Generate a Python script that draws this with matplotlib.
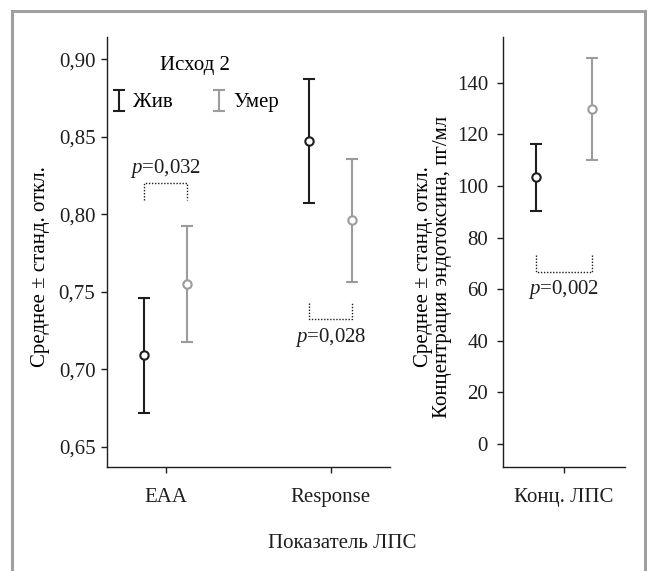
import numpy as np
import matplotlib
matplotlib.use('Agg')
import matplotlib.pyplot as plt
from matplotlib.patches import Rectangle

plt.rcParams['font.family'] = ['Liberation Serif', 'DejaVu Serif']
plt.rcParams['mathtext.fontset'] = 'custom'
plt.rcParams['mathtext.rm'] = 'Liberation Serif'
plt.rcParams['mathtext.it'] = 'Liberation Serif:italic'

# --- data -------------------------------------------------------------
groups = ['Жив', 'Умер']
group_colors = ['#1e1e1e', '#9c9c9c']
group_offset = [-0.13, 0.13]

left_cats = ['EAA', 'Response']
alive_mean = [0.709, 0.847]
alive_sd = [0.037, 0.040]
dead_mean = [0.755, 0.796]
dead_sd = [0.0377, 0.0397]
left_p = ['0,032', '0,028']
left_bracket_y = [0.820, 0.7327]     # horizontal dotted line
left_bracket_tip = [0.809, 0.743]    # end of the short vertical ticks
left_p_y = [0.8295, 0.7207]

right_cats = ['Конц. ЛПС']
lps_alive_mean = [103.3]
lps_alive_sd = [13.0]
lps_dead_mean = [129.9]
lps_dead_sd = [19.8]
right_p = ['0,002']
right_bracket_y = [66.6]
right_bracket_tip = [73.1]
right_p_y = [59.9]
right_offset = [-0.2, 0.2]

left_yticks = [0.65, 0.70, 0.75, 0.80, 0.85, 0.90]
right_yticks = [0, 20, 40, 60, 80, 100, 120, 140]

FS = 15
W, H = 648, 571
EB = dict(elinewidth=1.5, capsize=4, capthick=1.5)


def style_axes(ax):
    for s in ('top', 'right'):
        ax.spines[s].set_visible(False)
    for s in ('left', 'bottom'):
        ax.spines[s].set_linewidth(1.0)
        ax.spines[s].set_color('#1e1e1e')
    ax.tick_params(axis='both', direction='out', length=4.5, width=1.0,
                   labelsize=FS, colors='#1e1e1e')
    ax.tick_params(axis='x', pad=11)
    ax.tick_params(axis='y', pad=4)


def draw_groups(ax, xs, means, sds, offsets):
    handles = []
    for (m, s), off, col in zip(zip(means, sds), offsets, group_colors):
        ax.errorbar(np.asarray(xs) + off, m, yerr=s, fmt='o', color=col,
                    mfc='white', mec=col, ms=6, mew=1.5, zorder=3, **EB)
        # legend proxy: bar with caps, no marker
        handles.append(ax.errorbar([np.nan], [np.nan], yerr=[1.0], fmt='none',
                                   color=col, **EB))
    return handles


def draw_bracket(ax, x, offsets, y, tip, ptxt, py):
    xl, xr = x + offsets[0], x + offsets[1]
    ax.plot([xl, xl, xr, xr], [tip, y, y, tip], ls=(0, (1, 1.2)),
            color='#1e1e1e', lw=1.0)
    ax.text(x, py, r'$\it{p}$=' + ptxt, ha='center', va='center', fontsize=FS,
            color='#1e1e1e')


fig = plt.figure(figsize=(W / 100, H / 100), dpi=100)

ax_bottom = 1 - 466.7 / H
ax_height = (466.7 - 37.3) / H

# --- left panel ----------------------------------------------------------
ax1 = fig.add_axes([107.3 / W, ax_bottom, (390 - 107.3) / W, ax_height])
x1 = np.arange(len(left_cats))
handles = draw_groups(ax1, x1, [alive_mean, dead_mean], [alive_sd, dead_sd],
                      group_offset)
for i in range(len(left_cats)):
    draw_bracket(ax1, x1[i], group_offset, left_bracket_y[i],
                 left_bracket_tip[i], left_p[i], left_p_y[i])
ax1.set_xlim(-0.354, 1.359)
ax1.set_ylim(0.6371, 0.9142)
ax1.set_xticks(x1)
ax1.set_xticklabels(left_cats)
ax1.set_yticks(left_yticks)
ax1.set_yticklabels([f'{v:.2f}'.replace('.', ',') for v in left_yticks])
style_axes(ax1)
ax1.set_ylabel('Среднее ± станд. откл.', fontsize=FS)
ax1.yaxis.set_label_coords((50 - 107.3) / (390 - 107.3), 1 - (267 - 37.3) / (466.7 - 37.3))

leg = ax1.legend(handles, groups, title='Исход 2', ncol=2, frameon=False,
                 loc='upper left', bbox_to_anchor=(-0.035, 0.99), fontsize=FS,
                 title_fontsize=FS, handlelength=0.7, handletextpad=0.3,
                 columnspacing=1.9, borderpad=0.2, labelspacing=0.85)

# --- right panel ---------------------------------------------------------
ax2 = fig.add_axes([502.7 / W, ax_bottom, (625.3 - 502.7) / W, ax_height])
x2 = np.arange(len(right_cats))
draw_groups(ax2, x2, [lps_alive_mean, lps_dead_mean], [lps_alive_sd, lps_dead_sd],
            right_offset)
for i in range(len(right_cats)):
    draw_bracket(ax2, x2[i], right_offset, right_bracket_y[i],
                 right_bracket_tip[i], right_p[i], right_p_y[i])
ax2.set_xlim(-0.444, 0.444)
ax2.set_ylim(-8.8, 157.6)
ax2.set_xticks(x2)
ax2.set_xticklabels(right_cats)
ax2.set_yticks(right_yticks)
style_axes(ax2)
ax2.tick_params(axis='y', pad=6)
ax2.set_ylabel('Среднее ± станд. откл.\nКонцентрация эндотоксина, пг/мл',
               fontsize=FS, linespacing=1.0)
ax2.yaxis.set_label_coords((452 - 502.7) / (625.3 - 502.7), 1 - (267 - 37.3) / (466.7 - 37.3))

fig.text(341.7 / W, 1 - 543.3 / H, 'Показатель ЛПС', ha='center', va='center',
         fontsize=FS, color='#1e1e1e')

# grey frame around the figure (bottom edge cut off in the source)
fig.patches.append(Rectangle((11.5 / W, -0.05), (645 - 11.5) / W, 1.05 - 11.5 / H,
                             transform=fig.transFigure, fill=False,
                             ec='#a0a0a0', lw=2.2))

fig.savefig('out.png', dpi=100)
